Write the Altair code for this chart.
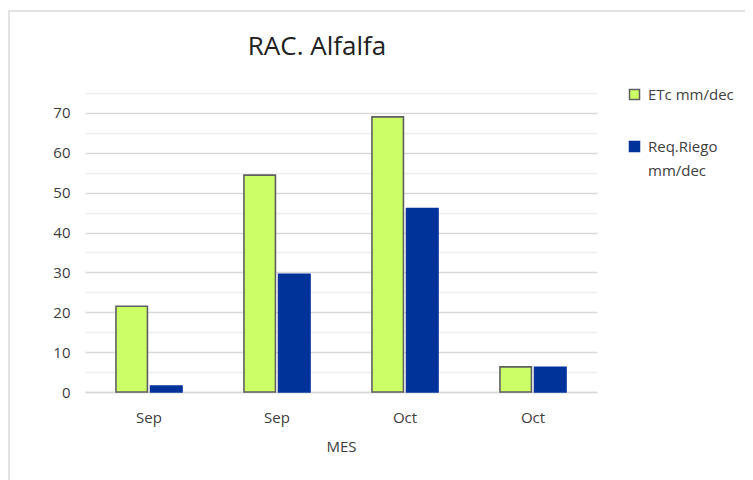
import altair as alt
import pandas as pd

months = ["Sep", "Sep", "Oct", "Oct"]
etc_vals = [21.5, 54.4, 69.0, 6.3]
req_vals = [1.5, 29.5, 46.0, 6.2]
series_names = ["ETc mm/dec", "Req.Riego mm/dec"]
y_ticks = [0, 5, 10, 15, 20, 25, 30, 35, 40, 45, 50, 55, 60, 65, 70, 75]

rows = []
for i, m in enumerate(months):
    key = f"{i}|{m}"
    rows.append({"cat": key, "serie": series_names[0], "valor": etc_vals[i]})
    rows.append({"cat": key, "serie": series_names[1], "valor": req_vals[i]})
df = pd.DataFrame(rows)
cat_order = [f"{i}|{m}" for i, m in enumerate(months)]

FONT = "Open Sans"
TXT = "#404040"

legend_kw = dict(title=None, orient="none", legendX=542, legendY=-6,
                 symbolType="square", symbolSize=100,
                 labelFontSize=15, labelFont=FONT, labelColor=TXT,
                 rowPadding=35, labelOffset=6, labelLimit=200,
                 labelExpr="datum.label == 'Req.Riego mm/dec' ? ['Req.Riego', 'mm/dec'] : datum.label")

bars = alt.Chart(df).mark_bar(strokeWidth=1.6).encode(
    x=alt.X("cat:N", sort=cat_order,
            scale=alt.Scale(paddingInner=0.484, paddingOuter=0.242),
            axis=alt.Axis(title="MES", labelExpr="split(datum.label, '|')[1]",
                          labelAngle=0, ticks=False, labelPadding=18,
                          domainColor="#d9d9d9", domainWidth=1.5,
                          labelFontSize=15, titleFontSize=15, titlePadding=14,
                          labelColor=TXT, titleColor=TXT, titleFontWeight="normal",
                          labelFont=FONT, titleFont=FONT)),
    xOffset=alt.XOffset("serie:N", sort=series_names,
                        scale=alt.Scale(paddingInner=0.09, paddingOuter=0)),
    y=alt.Y("valor:Q", scale=alt.Scale(domain=[0, 75], nice=False),
            axis=alt.Axis(title=None, values=y_ticks, ticks=False, domain=False,
                          labelExpr="datum.value % 10 === 0 && datum.value <= 70 ? datum.label : ''",
                          labelOverlap=False, labelPadding=15, labelFontSize=15,
                          labelColor=TXT, labelFont=FONT,
                          gridColor={"condition": {"test": "datum.value % 10 === 0", "value": "#d9d9d9"},
                                     "value": "#f0f0f0"},
                          gridWidth=1.5)),
    fill=alt.Fill("serie:N", sort=series_names,
                  scale=alt.Scale(domain=series_names, range=["#ccff66", "#003399"]),
                  legend=alt.Legend(**legend_kw)),
    stroke=alt.Stroke("serie:N", sort=series_names,
                      scale=alt.Scale(domain=series_names, range=["#5f5f5f", "#003399"]),
                      legend=alt.Legend(**legend_kw)),
)

frame = alt.Chart(pd.DataFrame({"a": [0]})).mark_rect(
    fill=None, stroke="#d9d9d9", strokeWidth=1.5, clip=False
).encode(x=alt.value(-76), x2=alt.value(720), y=alt.value(-82), y2=alt.value(500))

chart = alt.layer(frame, bars).properties(
    width=512, height=299,
    title=alt.TitleParams("RAC. Alfalfa", fontSize=26, font=FONT, fontWeight="normal",
                          color="#202020", anchor="middle", dx=-24, offset=-50),
    padding={"left": 77, "top": 85, "right": 148, "bottom": 95},
    autosize=alt.AutoSizeParams(type="none"),
    background="white",
).configure(
    view={"stroke": "transparent"},
    style={"guide-label": {"lineHeight": 24}},
)

chart.save("out.html", embed_options={"renderer": "svg", "actions": False})
